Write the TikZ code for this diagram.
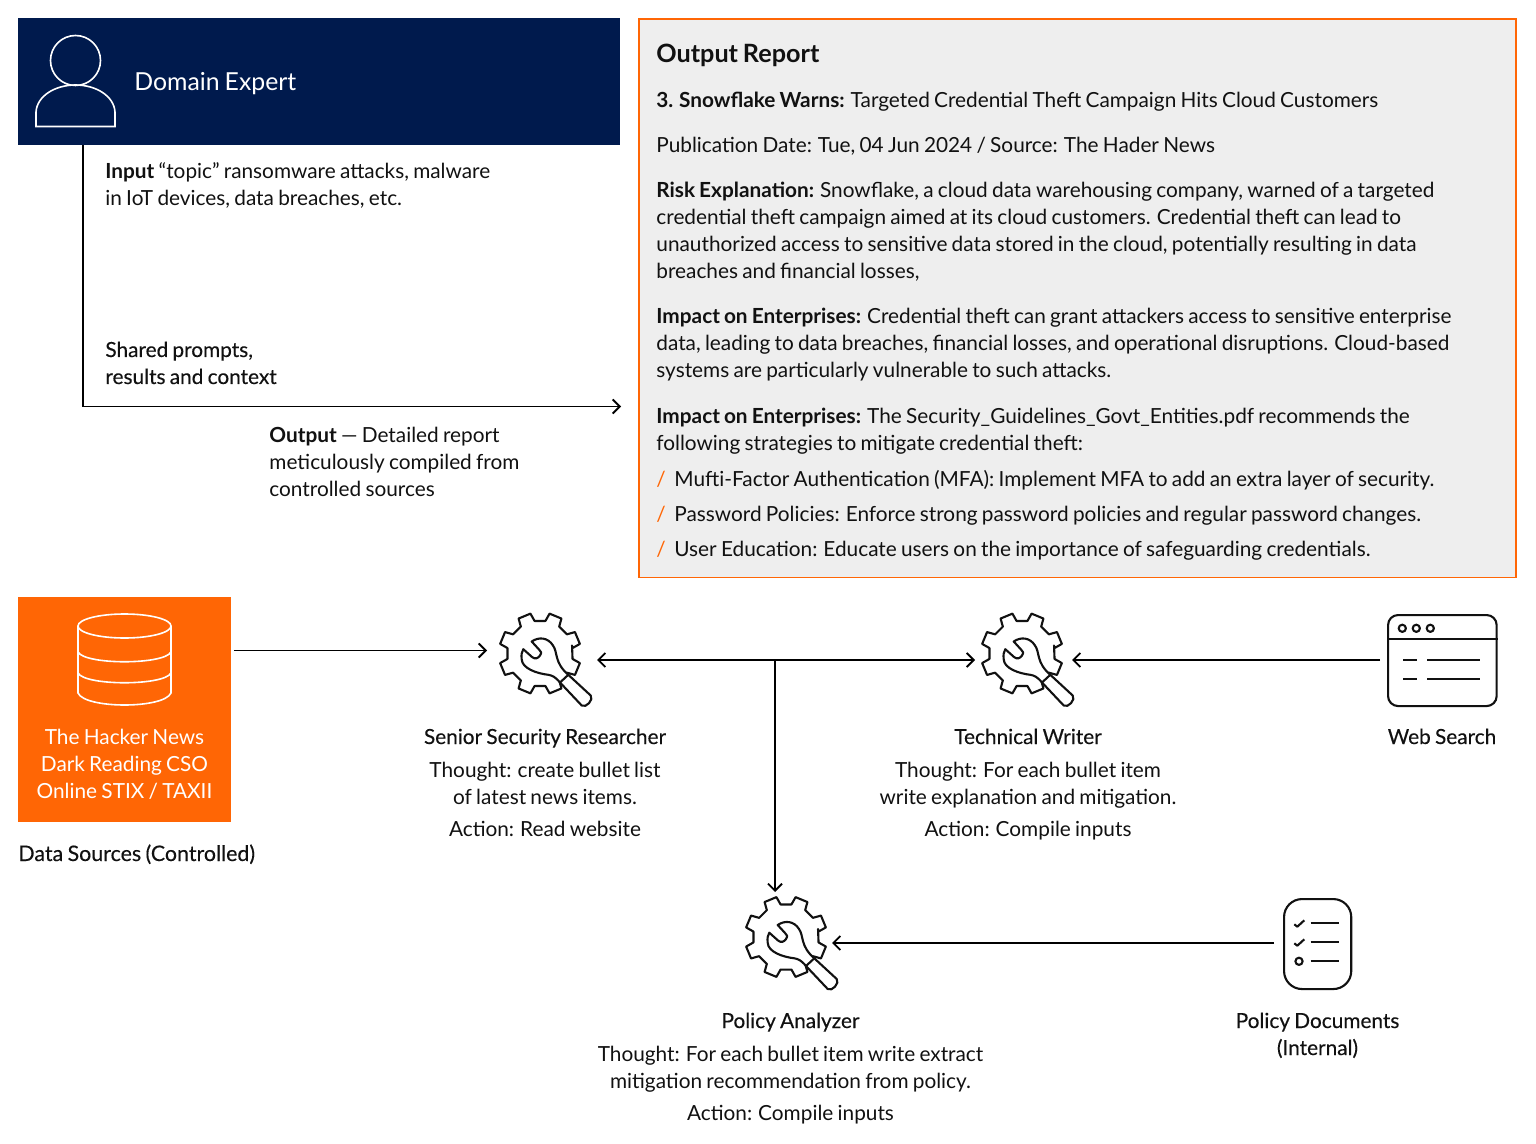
\documentclass[tikz,border=0pt]{standalone}
\usepackage{fontspec}
\setmainfont[WordSpace=0.8]{Lato}
\newfontfamily\medfont[FakeBold=0.25,WordSpace=0.8]{Lato}
\usetikzlibrary{arrows.meta}
\definecolor{navy}{RGB}{0, 26, 77}
\definecolor{tangerine}{RGB}{255, 102, 5}
\definecolor{panel}{RGB}{238, 238, 238}
\definecolor{ink}{RGB}{17, 17, 17}
\newcommand{\bodyfont}{\fontsize{10.4}{13.5}\selectfont}
\tikzset{
	line/.style={color=black,line width=0.9pt},
	iconline/.style={color=ink,line width=1.05pt,line join=round},
	flow/.style={line,-{Straight Barb[length=3.5pt,width=7pt]}},
	txt/.style={font=\bodyfont,text=ink,align=left,anchor=base west,inner sep=0pt,yshift=-0.5pt},
	mid/.style={txt,align=center,anchor=base},
}
% gear with wrench: #1 x, #2 y of gear centre, #3 name
\newcommand{\gearnode}[3]{
	\node[inner sep=0pt,minimum size=41pt,circle] (#3) at (#1,#2) {};
	\begin{scope}[shift={(#1,#2)}]
	\draw[iconline] (-14:33) foreach \a in {22.5,67.5,...,337.5} {-- ({\a-13}:33) -- ({\a-9}:41) -- ({\a+9}:41) -- ({\a+13}:33)} -- cycle;
	\draw[iconline,fill=white] (-8.3,-12) .. controls (-1,-17) and (8,-16) .. (13,-8) .. controls (18,-1) and (14,9) .. (28.3,21.3) -- (50.7,42) .. controls (54,46) and (46,55) .. (41.7,52) -- (20,29) .. controls (15,23) and (12,22) .. (8.3,21.3) .. controls (-3,20) and (-18,15) .. (-18.3,5.7) .. controls (-19,1) and (-18,-2) .. (-16.7,-4.3) -- (-8,3.5) .. controls (-5,6) and (-2,5) .. (0,2) .. controls (2,-1) and (1,-2) .. (-1,-4) -- cycle;
	\draw[iconline] (28.3,21.3) -- (20,29);
	\end{scope}}
\begin{document}
\begin{tikzpicture}[x=0.5pt,y=-0.5pt]
\useasboundingbox (0,0) rectangle (1536,1144);

% domain expert
\node[fill=navy,inner sep=0pt,minimum width=301pt,minimum height=63.3pt,anchor=north west] (expert) at (18,18) {};
\draw[color=white,line width=0.8pt] (75.5,60.5) circle (25);
\draw[color=white,line width=0.8pt] (36,126.5) -- (36,112) .. controls (37,96) and (55,85) .. (75.5,85) .. controls (96,85) and (114,96) .. (115,112) -- (115,126.5) -- cycle;
\node[txt,text=white,font=\fontsize{12.4}{15}\selectfont] (experttext) at (134,90) {Domain Expert};

% report
\node[draw=tangerine,line width=0.9pt,fill=panel,inner sep=0pt,minimum width=438.5pt,minimum height=279pt,anchor=north west] (report) at (638,18.5) {};
\node[txt,font=\fontsize{12.6}{15}\selectfont\bfseries] (reporttitle) at (656,62) {Output Report};
\node[txt] (item) at (656,107) {\textbf{3. Snowflake Warns:} Targeted Credential Theft Campaign Hits Cloud Customers};
\node[txt] (pubdate) at (656,152) {Publication Date: Tue, 04 Jun 2024 / Source: The Hader News};
\node[txt] (risk) at (656,278) {\textbf{Risk Explanation:} Snowflake, a cloud data warehousing company, warned of a targeted\\credential theft campaign aimed at its cloud customers. Credential theft can lead to\\unauthorized access to sensitive data stored in the cloud, potentially resulting in data\\breaches and financial losses,};
\node[txt] (impacta) at (656,377) {\textbf{Impact on Enterprises:} Credential theft can grant attackers access to sensitive enterprise\\data, leading to data breaches, financial losses, and operational disruptions. Cloud-based\\systems are particularly vulnerable to such attacks.};
\node[txt] (impactb) at (656,450) {\textbf{Impact on Enterprises:} The Security\_Guidelines\_Govt\_Entities.pdf recommends the\\following strategies to mitigate credential theft:};
\node[txt,text=tangerine] (slasha) at (656,486) {/};
\node[txt,text=tangerine] (slashb) at (656,520) {/};
\node[txt,text=tangerine] (slashc) at (656,555) {/};
\node[txt] (mfa) at (674,486) {Mufti-Factor Authentication (MFA): Implement MFA to add an extra layer of security.};
\node[txt] (passwords) at (674,520) {Password Policies: Enforce strong password policies and regular password changes.};
\node[txt] (education) at (674,555) {User Education: Educate users on the importance of safeguarding credentials.};

% left texts
\node[txt] (input) at (105,205) {\textbf{Input} “topic” ransomware attacks, malware\\in IoT devices, data breaches, etc.};
\node[txt,font=\bodyfont\medfont] (shared) at (105,383) {Shared prompts,\\results and context};
\node[txt] (output) at (269,495) {\textbf{Output} — Detailed report\\meticulously compiled from\\controlled sources};

% data sources
\node[fill=tangerine,inner sep=0pt,minimum width=106.5pt,minimum height=112.5pt,anchor=north west] (source) at (18,597) {};
\draw[color=white,line width=0.8pt] (124.5,626) ellipse (46.5 and 12);
\draw[color=white,line width=0.8pt] (78,626) -- (78,693) .. controls (85,709) and (164,709) .. (171,693) -- (171,626);
\draw[color=white,line width=0.8pt] (78,652) .. controls (85,665) and (164,665) .. (171,652);
\draw[color=white,line width=0.8pt] (78,673) .. controls (85,686) and (164,686) .. (171,673);
\node[mid,text=white] (sourcetext) at (124.5,797) {The Hacker News\\Dark Reading CSO\\Online STIX / TAXII};
\node[txt,font=\fontsize{10.7}{13.5}\selectfont\medfont] (sourcelabel) at (18,860) {Data Sources (Controlled)};

% agents
\gearnode{540}{653.5}{researcher}
\gearnode{1022}{653.5}{writer}
\gearnode{786}{937}{analyzer}
\node[mid,font=\bodyfont\medfont] (researcherlabel) at (545,743) {Senior Security Researcher};
\node[mid] (researchertext) at (545,803) {Thought: create bullet list\\of latest news items.};
\node[mid] (researcheraction) at (545,835) {Action: Read website};
\node[mid,font=\bodyfont\medfont] (writerlabel) at (1028,743) {Technical Writer};
\node[mid] (writertext) at (1028,803) {Thought: For each bullet item\\write explanation and mitigation.};
\node[mid] (writeraction) at (1028,835) {Action: Compile inputs};
\node[mid,font=\bodyfont\medfont] (analyzerlabel) at (790.5,1027) {Policy Analyzer};
\node[mid] (analyzertext) at (790.5,1087) {Thought: For each bullet item write extract\\mitigation recommendation from policy.};
\node[mid] (analyzeraction) at (790.5,1119) {Action: Compile inputs};

% web search
\node[draw,iconline,rounded corners=5pt,inner sep=0pt,minimum width=54.3pt,minimum height=45.5pt,anchor=north west] (web) at (1387,614) {};
\draw[iconline] (web.west |- 0,639) -- (web.east |- 0,639);
\foreach \x in {1402.3,1416.3,1430.3}
	\draw[iconline] (\x,628.3) circle (3.6);
\foreach \y in {660,679.3} {
	\draw[iconline] (1403.3,\y) -- (1417.3,\y);
	\draw[iconline] (1427.3,\y) -- (1480.3,\y);
}
\node[mid,font=\bodyfont\medfont] (weblabel) at (1442,743) {Web Search};

% policy documents
\node[draw,iconline,rounded corners=9pt,inner sep=0pt,minimum width=33.6pt,minimum height=45pt,anchor=north west] (policy) at (1283,898) {};
\foreach \y in {922.7,941.7,961.3}
	\draw[iconline] (1310.7,\y) -- (1339.3,\y);
\foreach \y in {924.3,943.3}
	\draw[iconline] (1294.3,\y) -- (1297.3,\y+2.4) -- (1304.3,\y-4);
\draw[iconline] (1299,961.3) circle (3.6);
\node[mid,font=\bodyfont\medfont] (policylabel) at (1317.5,1054) {Policy Documents\\(Internal)};

% connectors
\coordinate (researcherwest) at (487,650.5);
\coordinate (researchereast) at (597,660);
\coordinate (writerwest) at (975,660);
\coordinate (writereast) at (1072,660);
\coordinate (analyzernorth) at (775,892);
\coordinate (analyzereast) at (832,943);
\coordinate (junction) at (775,660);
\coordinate (corner) at (83,406.5);
\draw[flow,shorten <=1pt] (source.east |- researcherwest) -- (researcherwest);
\draw[flow] (junction) -- (researchereast);
\draw[flow] (junction) -- (writerwest);
\draw[flow] (junction) -- (analyzernorth);
\draw[flow,shorten <=3.5pt] (web.west |- writereast) -- (writereast);
\draw[flow,shorten <=4.5pt] (policy.west |- analyzereast) -- (analyzereast);
\draw[flow,shorten >=8.5pt] (expert.south -| corner) -- (corner) -- (report.west |- corner);
\end{tikzpicture}
\end{document}
